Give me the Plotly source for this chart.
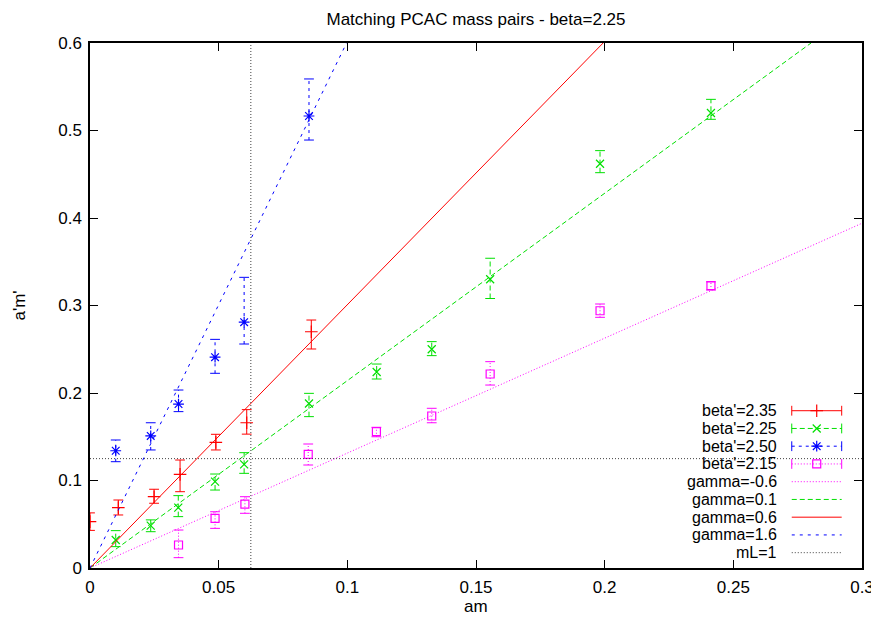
import plotly.graph_objects as go

# ---------------- data ----------------
# beta'=2.35 (red, +)
b235_x  = [0.0, 0.0110, 0.0249, 0.0350, 0.0489, 0.0609, 0.0860]
b235_y  = [0.053, 0.069, 0.0815, 0.107, 0.1436, 0.166, 0.270]
b235_lo = [0.043, 0.0606, 0.074, 0.0872, 0.1349, 0.153, 0.2503]
b235_hi = [0.063, 0.0777, 0.090, 0.1234, 0.1528, 0.181, 0.2834]

# beta'=2.25 (green, x)
b225_x  = [0.0100, 0.0236, 0.0343, 0.0486, 0.0599, 0.0851, 0.1114, 0.1328, 0.1555, 0.1982, 0.2413]
b225_y  = [0.032, 0.0484, 0.069, 0.0987, 0.1185, 0.188, 0.224, 0.250, 0.330, 0.462, 0.520]
b225_lo = [0.0244, 0.0415, 0.0587, 0.0891, 0.1082, 0.173, 0.216, 0.2427, 0.308, 0.4518, 0.5128]
b225_hi = [0.0427, 0.055, 0.0827, 0.1074, 0.1318, 0.1996, 0.2331, 0.2587, 0.354, 0.477, 0.5356]

# beta'=2.50 (blue, *)
b250_x  = [0.0100, 0.0236, 0.0344, 0.0486, 0.0599, 0.0851]
b250_y  = [0.134, 0.151, 0.1874, 0.241, 0.281, 0.5166]
b250_lo = [0.1215, 0.1349, 0.1787, 0.2225, 0.256, 0.4891]
b250_hi = [0.1463, 0.166, 0.2034, 0.2613, 0.3322, 0.5589]

# beta'=2.15 (magenta, square)
b215_x  = [0.0344, 0.0486, 0.0602, 0.0848, 0.1113, 0.1328, 0.1555, 0.1982, 0.2413]
b215_y  = [0.0263, 0.0568, 0.0731, 0.1299, 0.1558, 0.1737, 0.2217, 0.294, 0.3227]
b215_lo = [0.0118, 0.0453, 0.0625, 0.1177, 0.150, 0.166, 0.2091, 0.2865, 0.3177]
b215_hi = [0.0434, 0.0643, 0.0815, 0.1417, 0.1608, 0.1825, 0.2358, 0.3017, 0.327]

# gamma lines: from origin to the point where they leave the frame
gamma_names = ["gamma=-0.6", "gamma=0.1", "gamma=0.6", "gamma=1.6"]
gamma_x_end = [0.3, 0.2802, 0.1994, 0.0997]
gamma_y_end = [0.394, 0.6, 0.6, 0.6]

# mL=1 reference lines
mL_x = 0.0625
mL_y = 0.125

x_range = [0, 0.3]
y_range = [0, 0.6]
title_text = "Matching PCAC mass pairs - beta=2.25"

# ---------------- styling ----------------
FONT = "Liberation Sans, Arial, sans-serif"
FS = 17
FS_KEY = 16
RED, GREEN, BLUE, MAG, GREY = "#ff0000", "#00e000", "#0000ff", "#ff00ff", "#404040"

# page body has an 8px margin: shrink the figure so the plot lands where the reference has it
OFF = 8
W, H = 879 - OFF, 622 - OFF
ML, MR, MT, MB = 90 - OFF, 17, 43 - OFF, 54
PW, PH = W - ML - MR, H - MT - MB

series = [
    ("beta'=2.35", b235_x, b235_y, b235_lo, b235_hi, RED, "solid", "cross-thin", 9),
    ("beta'=2.25", b225_x, b225_y, b225_lo, b225_hi, GREEN, "5px,3px", "x-thin", 8),
    ("beta'=2.50", b250_x, b250_y, b250_lo, b250_hi, BLUE, "3px,4px", "asterisk", 9),
    ("beta'=2.15", b215_x, b215_y, b215_lo, b215_hi, MAG, "1px,2px", "square-open", 8),
]
gamma_styles = [(MAG, "1px,2px"), (GREEN, "5px,3px"), (RED, "solid"), (BLUE, "3px,5px")]

fig = go.Figure()

for name, xs, ys, lo, hi, col, dash, sym, msz in series:
    ex, ey = [], []
    for xi, l, h in zip(xs, lo, hi):
        ex += [xi, xi, None]
        ey += [l, h, None]
    fig.add_trace(go.Scatter(x=ex, y=ey, mode="lines", line=dict(color=col, width=1, dash=dash),
                             hoverinfo="skip", showlegend=False))
    fig.add_trace(go.Scatter(x=xs + xs, y=lo + hi, mode="markers",
                             marker=dict(symbol="line-ew", size=7, line=dict(color=col, width=1)),
                             hoverinfo="skip", showlegend=False))
    fig.add_trace(go.Scatter(x=xs, y=ys, mode="markers", name=name,
                             marker=dict(symbol=sym, size=msz, color=col, line=dict(color=col, width=1.2)),
                             showlegend=False))

for gname, xe, ye, (col, dash) in zip(gamma_names, gamma_x_end, gamma_y_end, gamma_styles):
    fig.add_trace(go.Scatter(x=[0, xe], y=[0, ye], mode="lines", name=gname,
                             line=dict(color=col, width=1, dash=dash), showlegend=False))

fig.add_trace(go.Scatter(x=[mL_x, mL_x], y=y_range, mode="lines", name="mL=1",
                         line=dict(color=GREY, width=1, dash="1px,2px"), showlegend=False))
fig.add_trace(go.Scatter(x=x_range, y=[mL_y, mL_y], mode="lines", showlegend=False,
                         line=dict(color=GREY, width=1, dash="1px,2px")))

# ---------------- gnuplot-style key (on an overlay axis 0..1) ----------------
key_labels = [s[0] for s in series] + gamma_names + ["mL=1"]
key_styles = [(s[5], s[6], s[7], s[8]) for s in series] + \
             [(c, d, None, 0) for c, d in gamma_styles] + [(GREY, "1px,2px", None, 0)]
kx0, kx1, ktext = 0.909, 0.9737, 0.8925
ky0, kdy = 0.2996, 0.0338
annotations = []
for i, (lab, (col, dash, sym, msz)) in enumerate(zip(key_labels, key_styles)):
    yy = ky0 - i * kdy
    fig.add_trace(go.Scatter(x=[kx0, kx1], y=[yy, yy], mode="lines", xaxis="x2", yaxis="y2",
                             line=dict(color=col, width=1, dash=dash), hoverinfo="skip", showlegend=False))
    if sym is not None:
        fig.add_trace(go.Scatter(x=[kx0, kx1], y=[yy, yy], mode="markers", xaxis="x2", yaxis="y2",
                                 marker=dict(symbol="line-ns", size=7, line=dict(color=col, width=1)),
                                 hoverinfo="skip", showlegend=False))
        fig.add_trace(go.Scatter(x=[(kx0 + kx1) / 2], y=[yy], mode="markers", xaxis="x2", yaxis="y2",
                                 marker=dict(symbol=sym, size=msz, color=col, line=dict(color=col, width=1.2)),
                                 hoverinfo="skip", showlegend=False))
    annotations.append(dict(x=ktext, y=yy, xref="paper", yref="paper", text=lab, showarrow=False,
                            xanchor="right", yanchor="middle",
                            font=dict(family=FONT, size=FS_KEY, color="black")))

annotations.append(dict(x=0.5, y=-38 / PH, xref="paper", yref="paper", text="am", showarrow=False,
                        xanchor="center", yanchor="middle", font=dict(family=FONT, size=FS, color="black")))
annotations.append(dict(x=-(ML - 11) / PW, y=0.5, xref="paper", yref="paper", text="a'm'", showarrow=False,
                        textangle=-90, xanchor="center", yanchor="middle",
                        font=dict(family=FONT, size=FS, color="black")))

axis_common = dict(showgrid=False, zeroline=False, showline=True, linecolor="black", linewidth=1.5,
                   ticks="inside", ticklen=8, tickwidth=1.2, tickcolor="black", mirror="ticks",
                   automargin=False, tickfont=dict(family=FONT, size=FS, color="black"))

fig.update_layout(
    width=W, height=H,
    margin=dict(l=ML, r=MR, t=MT, b=MB, autoexpand=False),
    paper_bgcolor="white", plot_bgcolor="white",
    showlegend=False,
    title=dict(text=title_text, x=0.5, xref="paper", y=1 - 11 / H, yref="container",
               xanchor="center", yanchor="middle", font=dict(family=FONT, size=FS, color="black")),
    xaxis=dict(range=x_range, dtick=0.05, tick0=0, ticklabelstandoff=3, **axis_common),
    yaxis=dict(range=y_range, dtick=0.1, tick0=0, ticklabelstandoff=3, **axis_common),
    xaxis2=dict(overlaying="x", range=[0, 1], visible=False),
    yaxis2=dict(overlaying="y", range=[0, 1], visible=False),
    annotations=annotations,
)

fig.write_html("out.html")
